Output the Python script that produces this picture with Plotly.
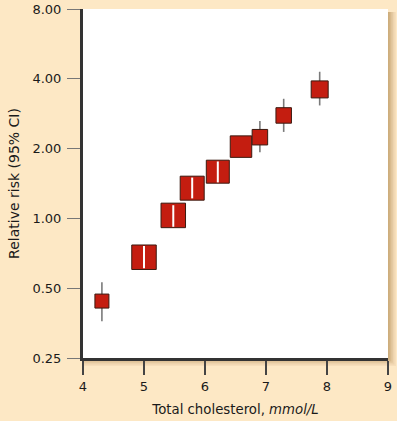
import plotly.graph_objects as go
import math

# Data
cholesterol = [4.31, 5.00, 5.48, 5.79, 6.21, 6.59, 6.90, 7.29, 7.88]
relative_risk = [0.44, 0.68, 1.03, 1.35, 1.59, 2.04, 2.24, 2.78, 3.60]
ci_low = [0.36, 0.61, 0.92, 1.22, 1.43, 1.86, 1.93, 2.36, 3.07]
ci_high = [0.53, 0.76, 1.14, 1.50, 1.76, 2.24, 2.63, 3.28, 4.29]
box_weight = [14, 24.5, 24.5, 24, 23, 21.5, 15.5, 15.5, 17]
y_ticks = [0.25, 0.5, 1, 2, 4, 8]
y_tick_labels = ["0.25", "0.50", "1.00", "2.00", "4.00", "8.00"]
x_ticks = [4, 5, 6, 7, 8, 9]

big = [w >= 20 for w in box_weight]

fig = go.Figure()

# gray whiskers (only for small boxes, visible outside)
wx, wy = [], []
for x, lo, hi, b in zip(cholesterol, ci_low, ci_high, big):
    if not b:
        wx += [x, x, None]
        wy += [lo, hi, None]
fig.add_trace(go.Scatter(x=wx, y=wy, mode="lines",
                         line=dict(color="#7a7a7a", width=1.6),
                         hoverinfo="skip", showlegend=False))

fig.add_trace(go.Scatter(
    x=cholesterol, y=relative_risk, mode="markers",
    marker=dict(symbol="square", size=box_weight, color="#c41d10", opacity=1,
                line=dict(color="#3a1a10", width=1)),
    showlegend=False))

# white CI lines inside big boxes
bx, by = [], []
for x, lo, hi, b, w in zip(cholesterol, ci_low, ci_high, big, box_weight):
    if b and w > 22:
        bx += [x, x, None]
        by += [lo, hi, None]
fig.add_trace(go.Scatter(x=bx, y=by, mode="lines",
                         line=dict(color="#ffffff", width=2),
                         hoverinfo="skip", showlegend=False))

# shadow behind plot area, then the white plot panel
PW, PH = 305, 349
shapes = []
for i, op in enumerate([0.07, 0.09, 0.11, 0.14, 0.16]):
    off = 8 - i * 1.6
    shapes.append(dict(type="rect", xref="paper", yref="paper",
                       x0=0, x1=1 + off / PW, y0=-off / PH, y1=1 - 3 / PH,
                       line=dict(width=0), fillcolor="rgba(150,105,40,%s)" % op,
                       layer="below"))
shapes.append(dict(type="rect", xref="paper", yref="paper", x0=0, x1=1, y0=0, y1=1,
                   line=dict(width=0), fillcolor="#ffffff", layer="below"))

fig.update_layout(
    width=397, height=421,
    margin=dict(l=83, r=9, t=9, b=63, autoexpand=False),
    paper_bgcolor="#fde8c5",
    plot_bgcolor="rgba(0,0,0,0)",
    font=dict(family="DejaVu Sans", size=13, color="#1a1a1a"),
    shapes=shapes,
    xaxis=dict(range=[4, 9], tickvals=x_ticks, ticks="outside", ticklen=14,
               tickcolor="#444444", tickwidth=1.5, showgrid=False, zeroline=False,
               showline=True, linecolor="#333333", linewidth=3, automargin=False,
               title=dict(text="Total cholesterol, <i>mmol/L</i>", font=dict(size=13.3), standoff=13),
               tickfont=dict(size=13)),
    yaxis=dict(type="log", range=[math.log10(0.25), math.log10(8)],
               tickvals=y_ticks, ticktext=y_tick_labels, ticks="outside", ticklen=13,
               tickcolor="#777777", tickwidth=1.2, showgrid=False, zeroline=False,
               showline=True, linecolor="#333333", linewidth=3, automargin=False,
               ticklabelstandoff=3,
               title=dict(text="Relative risk (95% CI)", font=dict(size=14), standoff=10),
               tickfont=dict(size=13)),
)

fig.write_html("out.html", config={"displayModeBar": False},
               post_script="document.body.style.margin='0';document.body.style.overflow='hidden';")
